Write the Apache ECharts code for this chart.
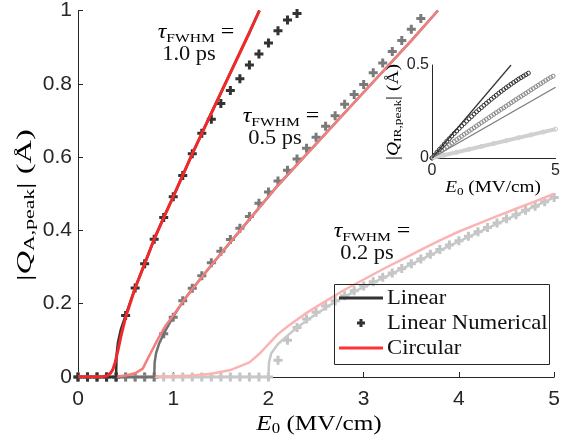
<!DOCTYPE html>
<html>
<head>
<meta charset="utf-8">
<script src="https://cdn.jsdelivr.net/npm/echarts@6/dist/echarts.min.js"></script>
<style>html,body{margin:0;padding:0;background:#fff}#c{width:563px;height:442px}</style>
</head>
<body>
<div id="c"></div>
<script>
// ---------- DATA ----------
const xTicks = [0, 1, 2, 3, 4, 5];
const yTicks = [0, 0.2, 0.4, 0.6, 0.8, 1];
const legendNames = ['Linear', 'Linear Numerical', 'Circular'];
const pulseLabels = ['1.0 ps', '0.5 ps', '0.2 ps'];

// tau = 1.0 ps
const num10X = [0,0.1,0.2,0.3,0.4,0.5,0.6,0.7,0.8,0.9,1.0,1.1,1.2,1.3,1.4,1.5,1.6,1.7,1.8,1.9,2.0,2.1,2.2,2.3];
const num10Y = [0,0,0,0,0,0.168,0.243,0.309,0.376,0.435,0.492,0.55,0.609,0.665,0.703,0.746,0.782,0.814,0.851,0.881,0.911,0.945,0.974,0.992];
const lin10X = [0,0.4,0.405,0.42,0.45,0.5,0.6,0.7,0.8,0.9,1.0,1.2,1.4,1.6,1.8,1.905];
const lin10Y = [0,0,0.06,0.095,0.13,0.168,0.243,0.309,0.376,0.435,0.492,0.609,0.72,0.83,0.94,1.0];
const circ10X = [0,0.25,0.3,0.34,0.365,0.39,0.42,0.45,0.5,0.6,0.7,0.8,0.9,1.0,1.2,1.4,1.6,1.8,1.905];
const circ10Y = [0,0.001,0.003,0.01,0.02,0.04,0.073,0.11,0.163,0.243,0.309,0.376,0.435,0.492,0.609,0.72,0.83,0.94,1.0];

// tau = 0.5 ps
const num05X = [0,0.1,0.2,0.3,0.4,0.5,0.6,0.7,0.8,0.9,1.0,1.1,1.2,1.3,1.4,1.5,1.6,1.7,1.8,1.9,2.0,2.1,2.2,2.3,2.4,2.5,2.6,2.7,2.8,2.9,3.0,3.1,3.2,3.3,3.4,3.5,3.6];
const num05Y = [0,0,0,0,0,0,0,0,0,0.118,0.163,0.208,0.242,0.276,0.312,0.343,0.375,0.406,0.438,0.474,0.505,0.535,0.564,0.595,0.624,0.654,0.684,0.713,0.744,0.771,0.798,0.83,0.857,0.888,0.918,0.949,0.978];
const lin05X = [0,0.8,0.805,0.82,0.85,0.9,1.0,1.1,1.2,1.4,1.6,1.8,2.1,2.5,3.0,3.5,3.78];
const lin05Y = [0,0,0.04,0.065,0.09,0.118,0.165,0.205,0.24,0.305,0.368,0.43,0.523,0.636,0.777,0.918,1.0];
const circ05X = [0,0.4,0.5,0.6,0.68,0.76,0.85,0.92,1.0,1.1,1.2,1.4,1.6,1.8,2.1,2.5,3.0,3.5,3.78];
const circ05Y = [0,0.001,0.004,0.01,0.023,0.064,0.109,0.14,0.168,0.205,0.24,0.305,0.368,0.43,0.523,0.636,0.777,0.918,1.0];

// tau = 0.2 ps
const num02X = [0,0.1,0.2,0.3,0.4,0.5,0.6,0.7,0.8,0.9,1.0,1.1,1.2,1.3,1.4,1.5,1.6,1.7,1.8,1.9,2.0,2.1,2.2,2.3,2.4,2.5,2.6,2.7,2.8,2.9,3.0,3.1,3.2,3.3,3.4,3.5,3.6,3.7,3.8,3.9,4.0,4.1,4.2,4.3,4.4,4.5,4.6,4.7,4.8,4.9,5.0];
const num02Y = [0,0,0,0,0,0,0,0,0,0,0,0,0,0,0,0,0,0,0,0,0,0.046,0.1,0.135,0.158,0.177,0.194,0.208,0.222,0.235,0.248,0.26,0.272,0.284,0.296,0.309,0.322,0.335,0.348,0.36,0.372,0.384,0.396,0.408,0.42,0.432,0.443,0.455,0.466,0.478,0.49];
const lin02X = [0,2.0,2.005,2.03,2.1,2.2,2.3,2.5,2.7,2.9,3.2,3.6,4.0,4.5,5.0];
const lin02Y = [0,0,0.04,0.065,0.09,0.113,0.135,0.172,0.205,0.233,0.27,0.32,0.37,0.43,0.49];
const circ02X = [0,0.8,1.0,1.2,1.4,1.6,1.8,1.9,2.0,2.1,2.2,2.4,2.6,2.8,3.0,3.2,3.4,3.6,3.8,4.0,4.2,4.4,4.6,4.8,5.0];
const circ02Y = [0,0.001,0.002,0.004,0.009,0.019,0.04,0.062,0.09,0.117,0.138,0.175,0.207,0.238,0.266,0.294,0.32,0.347,0.373,0.397,0.418,0.439,0.459,0.479,0.5];

// inset
const insXTicks = [0, 5];
const insYTicks = [0, 0.5];
const insLin10X = [0, 3.2];
const insLin10Y = [0, 0.5];
const insLin05X = [0, 5];
const insLin05Y = [0, 0.38];
const insLin02X = [0, 5];
const insLin02Y = [0, 0.155];
const insNum10X = [0,0.1,0.2,0.3,0.4,0.5,0.6,0.7,0.8,0.9,1.0,1.1,1.2,1.3,1.4,1.5,1.6,1.7,1.8,1.9,2.0,2.1,2.2,2.3,2.4,2.5,2.6,2.7,2.8,2.9,3.0,3.1,3.2,3.3,3.4,3.5,3.6,3.7,3.8,3.9];
const insNum10Y = [0,0.015,0.031,0.046,0.06,0.075,0.09,0.104,0.118,0.132,0.145,0.159,0.172,0.185,0.198,0.211,0.223,0.236,0.248,0.26,0.271,0.283,0.294,0.305,0.316,0.327,0.337,0.348,0.358,0.368,0.378,0.387,0.397,0.406,0.415,0.424,0.432,0.44,0.448,0.456];
const insNum05X = [0,0.1,0.2,0.3,0.4,0.5,0.6,0.7,0.8,0.9,1.0,1.1,1.2,1.3,1.4,1.5,1.6,1.7,1.8,1.9,2.0,2.1,2.2,2.3,2.4,2.5,2.6,2.7,2.8,2.9,3.0,3.1,3.2,3.3,3.4,3.5,3.6,3.7,3.8,3.9,4.0,4.1,4.2,4.3,4.4,4.5,4.6,4.7,4.8,4.9];
const insNum05Y = [0,0.01,0.02,0.03,0.04,0.05,0.06,0.07,0.079,0.089,0.099,0.108,0.117,0.127,0.136,0.145,0.154,0.163,0.172,0.181,0.19,0.199,0.208,0.217,0.226,0.235,0.244,0.253,0.262,0.27,0.279,0.288,0.297,0.305,0.314,0.323,0.331,0.34,0.348,0.357,0.366,0.374,0.383,0.391,0.4,0.408,0.417,0.425,0.433,0.44];
const insNum02X = [0,0.5,1.0,1.5,2.0,2.5,3.0,3.5,4.0,4.5,5.0];
const insNum02Y = [0,0.016,0.031,0.047,0.062,0.078,0.093,0.109,0.124,0.14,0.155];

// ---------- BUILD ----------
const zip = (xs, ys) => xs.map((x, i) => [x, ys[i]]);
const PLUS = 'path://M3,0H6V3H9V6H6V9H3V6H0V3H3Z';
const AX = '#262626';
const SANS = 'Liberation Sans';
const SERIF = 'Liberation Serif';
const INK = '#111';

function lineS(name, xs, ys, color, w, gi) {
  return { type: 'line', name, data: zip(xs, ys), xAxisIndex: gi, yAxisIndex: gi,
    showSymbol: false, symbol: 'none', smooth: false, clip: true,
    lineStyle: { color, width: w }, itemStyle: { color }, silent: true };
}
function plusS(name, xs, ys, color) {
  return { type: 'scatter', name, data: zip(xs, ys), symbol: PLUS, symbolSize: 9,
    itemStyle: { color, opacity: 1 }, silent: true, clip: false };
}
function circS(name, xs, ys, color) {
  return { type: 'scatter', name, data: zip(xs, ys), xAxisIndex: 1, yAxisIndex: 1,
    symbol: 'circle', symbolSize: 4,
    itemStyle: { color: 'rgba(0,0,0,0)', borderColor: color, borderWidth: 1, opacity: 1 }, silent: true };
}
function subRich(fs, sfs, drop) {
  return {
    i: { fontFamily: SERIF, fontStyle: 'italic', fontSize: fs, color: INK, verticalAlign: 'bottom', lineHeight: fs + 6 },
    s: { fontFamily: SERIF, fontSize: sfs, color: INK, verticalAlign: 'bottom', lineHeight: fs + 6, height: sfs - drop },
    n: { fontFamily: SERIF, fontSize: fs, color: INK, verticalAlign: 'bottom', lineHeight: fs + 6 }
  };
}
function richText(x, y, text, fs, sfs, drop, sx, rot) {
  return { type: 'text', x, y, z: 50, rotation: rot || 0, scaleX: sx, scaleY: 1,
    style: { text, align: 'center', verticalAlign: 'middle', rich: subRich(fs, sfs, drop) } };
}
function plainText(x, y, text, fs, sx) {
  return { type: 'text', x, y, z: 50, scaleX: sx, scaleY: 1,
    style: { text, font: fs + 'px "Liberation Serif"', fill: INK, align: 'center', verticalAlign: 'middle' } };
}
function plusPoly(cx, cy, a, b) {
  return [[cx - b, cy - a], [cx + b, cy - a], [cx + b, cy - b], [cx + a, cy - b], [cx + a, cy + b], [cx + b, cy + b],
          [cx + b, cy + a], [cx - b, cy + a], [cx - b, cy + b], [cx - a, cy + b], [cx - a, cy - b], [cx - b, cy - b]];
}
const TAU = '{i|τ}{s|FWHM}{n| =}';

const option = {
  animation: false,
  backgroundColor: '#fff',
  grid: [
    { left: 78, top: 8, width: 482, height: 369 },
    { left: 432, top: 65, width: 125, height: 93 }
  ],
  xAxis: [
    { type: 'value', gridIndex: 0, min: xTicks[0], max: xTicks[xTicks.length - 1], interval: 1,
      axisLine: { show: true, lineStyle: { color: AX, width: 1 } },
      axisTick: { show: true, inside: true, length: 5, lineStyle: { color: AX } },
      axisLabel: { fontFamily: SANS, fontSize: 21, color: AX, margin: 12 },
      splitLine: { show: false } },
    { type: 'value', gridIndex: 1, min: insXTicks[0], max: insXTicks[1], interval: 5,
      axisLine: { show: true, lineStyle: { color: AX, width: 1 } },
      axisTick: { show: false },
      axisLabel: { fontFamily: SANS, fontSize: 16, color: AX, margin: 5 },
      splitLine: { show: false } }
  ],
  yAxis: [
    { type: 'value', gridIndex: 0, min: yTicks[0], max: yTicks[yTicks.length - 1], interval: 0.2,
      axisLine: { show: true, lineStyle: { color: AX, width: 1 } },
      axisTick: { show: true, inside: true, length: 5, lineStyle: { color: AX } },
      axisLabel: { fontFamily: SANS, fontSize: 21, color: AX, margin: 6 },
      splitLine: { show: false } },
    { type: 'value', gridIndex: 1, min: insYTicks[0], max: insYTicks[1], interval: 0.5,
      axisLine: { show: true, lineStyle: { color: AX, width: 1 } },
      axisTick: { show: false },
      axisLabel: { fontFamily: SANS, fontSize: 16, color: AX, margin: 3 },
      splitLine: { show: false } }
  ],
  series: [
    plusS('num02', num02X, num02Y, '#c4c4c4'),
    lineS('lin02', lin02X, lin02Y, '#c8c8c8', 2.5, 0),
    lineS('circ02', circ02X, circ02Y, '#fab4b4', 2.5, 0),
    plusS('num05', num05X, num05Y, '#7a7a7a'),
    lineS('lin05', lin05X, lin05Y, '#707070', 2.5, 0),
    lineS('circ05', circ05X, circ05Y, '#f27e7e', 2.5, 0),
    plusS('num10', num10X, num10Y, '#333333'),
    lineS('lin10', lin10X, lin10Y, '#333333', 2.5, 0),
    lineS('circ10', circ10X, circ10Y, '#f02a2a', 3, 0),
    // inset
    lineS('ins02', insLin02X, insLin02Y, '#d0d0d0', 4, 1),
    circS('insn02', insNum02X, insNum02Y, '#c8c8c8'),
    circS('insn05', insNum05X, insNum05Y, '#8a8a8a'),
    lineS('ins05', insLin05X, insLin05Y, '#7a7a7a', 1.2, 1),
    circS('insn10', insNum10X, insNum10Y, '#333333'),
    lineS('ins10', insLin10X, insLin10Y, '#333333', 1.2, 1)
  ],
  graphic: [
    richText(196, 30, TAU, 20, 13, 4, 1.2),
    plainText(189, 55, pulseLabels[0], 20, 1.12),
    richText(281, 114, TAU, 20, 13, 4, 1.2),
    plainText(275, 139, pulseLabels[1], 20, 1.12),
    richText(372, 229, TAU, 20, 13, 4, 1.2),
    plainText(367, 254, pulseLabels[2], 20, 1.12),
    // axis titles
    richText(319, 421, '{i|E}{s|0}{n| (MV/cm)}', 21, 14, 4, 1.2),
    richText(22, 205, '{n||}{i|Q}{s|A,peak}{n|| (Å)}', 21, 14, 4, 1.55, Math.PI / 2),
    richText(493, 185, '{i|E}{s|0}{n| (MV/cm)}', 16, 11, 3, 1.2),
    richText(391, 112, '{n||}{i|Q}{s|IR,peak}{n|| (Å)}', 16, 11, 3, 1.22, Math.PI / 2),
    // legend
    { type: 'rect', z: 60, shape: { x: 334.5, y: 284.5, width: 215, height: 80 },
      style: { fill: 'none', stroke: AX, lineWidth: 1 } },
    { type: 'line', z: 60, shape: { x1: 339, y1: 298, x2: 383, y2: 298 }, style: { stroke: '#333', lineWidth: 3 } },
    { type: 'polygon', z: 60, shape: { points: plusPoly(361, 323, 4, 1.5) }, style: { fill: '#333' } },
    { type: 'line', z: 60, shape: { x1: 339, y1: 348, x2: 383, y2: 348 }, style: { stroke: '#ff3333', lineWidth: 3 } },
    { type: 'text', z: 60, x: 387, y: 298, scaleX: 1.08, style: { text: legendNames[0], font: '21px "Liberation Serif"', fill: INK, verticalAlign: 'middle' } },
    { type: 'text', z: 60, x: 387, y: 323, scaleX: 1.08, style: { text: legendNames[1], font: '21px "Liberation Serif"', fill: INK, verticalAlign: 'middle' } },
    { type: 'text', z: 60, x: 387, y: 348, scaleX: 1.08, style: { text: legendNames[2], font: '21px "Liberation Serif"', fill: INK, verticalAlign: 'middle' } }
  ]
};

const chart = echarts.init(document.getElementById('c'), null, { renderer: 'canvas' });
chart.setOption(option);
</script>
</body>
</html>
